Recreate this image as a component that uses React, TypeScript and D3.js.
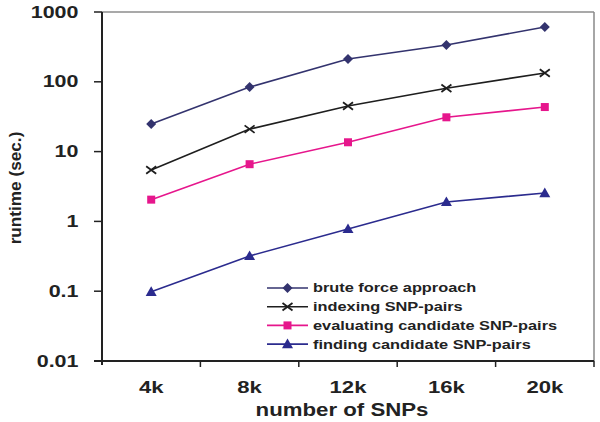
import React from "react";
import * as d3 from "d3";

const categories = ["4k", "8k", "12k", "16k", "20k"];
const bruteForce = [24.8, 84, 212, 337, 610];
const indexing = [5.45, 21, 45, 81, 134];
const evaluating = [2.05, 6.6, 13.6, 31, 43.5];
const finding = [0.098, 0.32, 0.78, 1.9, 2.55];
const yTicks = [0.01, 0.1, 1, 10, 100, 1000];
const yTickLabels = ["0.01", "0.1", "1", "10", "100", "1000"];

const seriesNames = [
  "brute force approach",
  "indexing SNP-pairs",
  "evaluating candidate SNP-pairs",
  "finding candidate SNP-pairs",
];
const seriesColors = ["#33336e", "#1e1e1e", "#e6168c", "#2b2b8e"];
const seriesShapes = ["diamond", "x", "square", "triangle"];
const seriesValues = [bruteForce, indexing, evaluating, finding];

const FONT = "'Liberation Sans', Arial, sans-serif";

const W = 600;
const H = 422;
const left = 102;
const right = 594;
const top = 12;
const bottom = 361;

function SText({
  x,
  y,
  sx,
  size,
  anchor,
  weight,
  children,
  dy,
}: {
  x: number;
  y: number;
  sx: number;
  size: number;
  anchor?: string;
  weight?: string;
  children: React.ReactNode;
  dy?: string;
}) {
  return (
    <text
      transform={`translate(${x},${y}) scale(${sx},1)`}
      x={0}
      y={0}
      dy={dy}
      textAnchor={anchor || "start"}
      fontSize={size}
      fontWeight={weight || "bold"}
      fill="#222"
    >
      {children}
    </text>
  );
}

function Marker({ shape, x, y, color }: { shape: string; x: number; y: number; color: string }) {
  if (shape === "diamond") {
    const s = 5;
    return <path d={`M${x},${y - s}L${x + s},${y}L${x},${y + s}L${x - s},${y}Z`} fill={color} />;
  }
  if (shape === "square") {
    const s = 4;
    return <rect x={x - s} y={y - s} width={2 * s} height={2 * s} fill={color} />;
  }
  if (shape === "triangle") {
    const s = 5.5;
    return <path d={`M${x},${y - s}L${x + s},${y + s * 0.75}L${x - s},${y + s * 0.75}Z`} fill={color} />;
  }
  const s = 5;
  return (
    <path
      d={`M${x - s},${y - s * 0.75}L${x + s},${y + s * 0.75}M${x - s},${y + s * 0.75}L${x + s},${y - s * 0.75}`}
      stroke={color}
      strokeWidth={1.8}
      fill="none"
    />
  );
}

export default function App() {
  const x = d3.scaleBand<string>().domain(categories).range([left, right]).padding(0);
  const y = d3.scaleLog().domain([0.01, 1000]).range([bottom, top]);
  const cx = (c: string) => (x(c) as number) + x.bandwidth() / 2;

  const line = d3
    .line<number>()
    .x((_, i) => cx(categories[i]))
    .y((v) => y(v));

  const legendX0 = 267;
  const legendX1 = 308;
  const legendY0 = 288;
  const legendDy = 18.7;

  return (
    <svg
      width={W}
      height={H}
      style={{ position: "absolute", left: 0, top: 0, background: "#fff" }}
      fontFamily={FONT}
    >
      <rect x={0} y={0} width={W} height={H} fill="#fff" />
      {/* frame */}
      <line x1={left} x2={right} y1={top} y2={top} stroke="#555" strokeWidth={1.2} />
      <line x1={right} x2={right} y1={top} y2={bottom} stroke="#888" strokeWidth={1.5} />
      {/* y axis */}
      <line x1={left} x2={left} y1={top} y2={bottom + 4} stroke="#222" strokeWidth={2} />
      {yTicks.map((t, i) => (
        <g key={t}>
          <line x1={left - 8} x2={left} y1={y(t)} y2={y(t)} stroke="#222" strokeWidth={1.5} />
          <SText x={78.5} y={y(t)} dy="0.36em" anchor="end" size={15.8} sx={1.36}>
            {yTickLabels[i]}
          </SText>
        </g>
      ))}
      {/* x axis */}
      <line x1={left - 8} x2={right} y1={bottom} y2={bottom} stroke="#222" strokeWidth={2} />
      {categories.map((c) => (
        <line
          key={"tk" + c}
          x1={(x(c) as number) + x.bandwidth()}
          x2={(x(c) as number) + x.bandwidth()}
          y1={bottom}
          y2={bottom + 6}
          stroke="#222"
          strokeWidth={1.5}
        />
      ))}
      {categories.map((c) => (
        <SText key={"lbl" + c} x={cx(c)} y={393} anchor="middle" size={16} sx={1.38}>
          {c}
        </SText>
      ))}
      <SText x={342} y={416} anchor="middle" size={17.5} sx={1.27}>
        number of SNPs
      </SText>
      <text
        transform={`translate(21,188) rotate(-90)`}
        textAnchor="middle"
        fontSize={17.2}
        fontWeight="bold"
        fill="#222"
      >
        runtime (sec.)
      </text>
      {/* series */}
      {seriesValues.map((vals, si) => (
        <g key={"s" + si}>
          <path d={line(vals) || ""} fill="none" stroke={seriesColors[si]} strokeWidth={1.6} />
          {vals.map((v, i) => (
            <Marker key={i} shape={seriesShapes[si]} x={cx(categories[i])} y={y(v)} color={seriesColors[si]} />
          ))}
        </g>
      ))}
      {/* legend */}
      {seriesNames.map((n, i) => {
        const ly = legendY0 + i * legendDy;
        return (
          <g key={"lg" + i}>
            <line x1={legendX0} x2={legendX1} y1={ly} y2={ly} stroke={seriesColors[i]} strokeWidth={1.6} />
            <Marker shape={seriesShapes[i]} x={(legendX0 + legendX1) / 2} y={ly} color={seriesColors[i]} />
            <SText x={313} y={ly} dy="0.36em" size={12.2} sx={1.34}>
              {n}
            </SText>
          </g>
        );
      })}
    </svg>
  );
}
